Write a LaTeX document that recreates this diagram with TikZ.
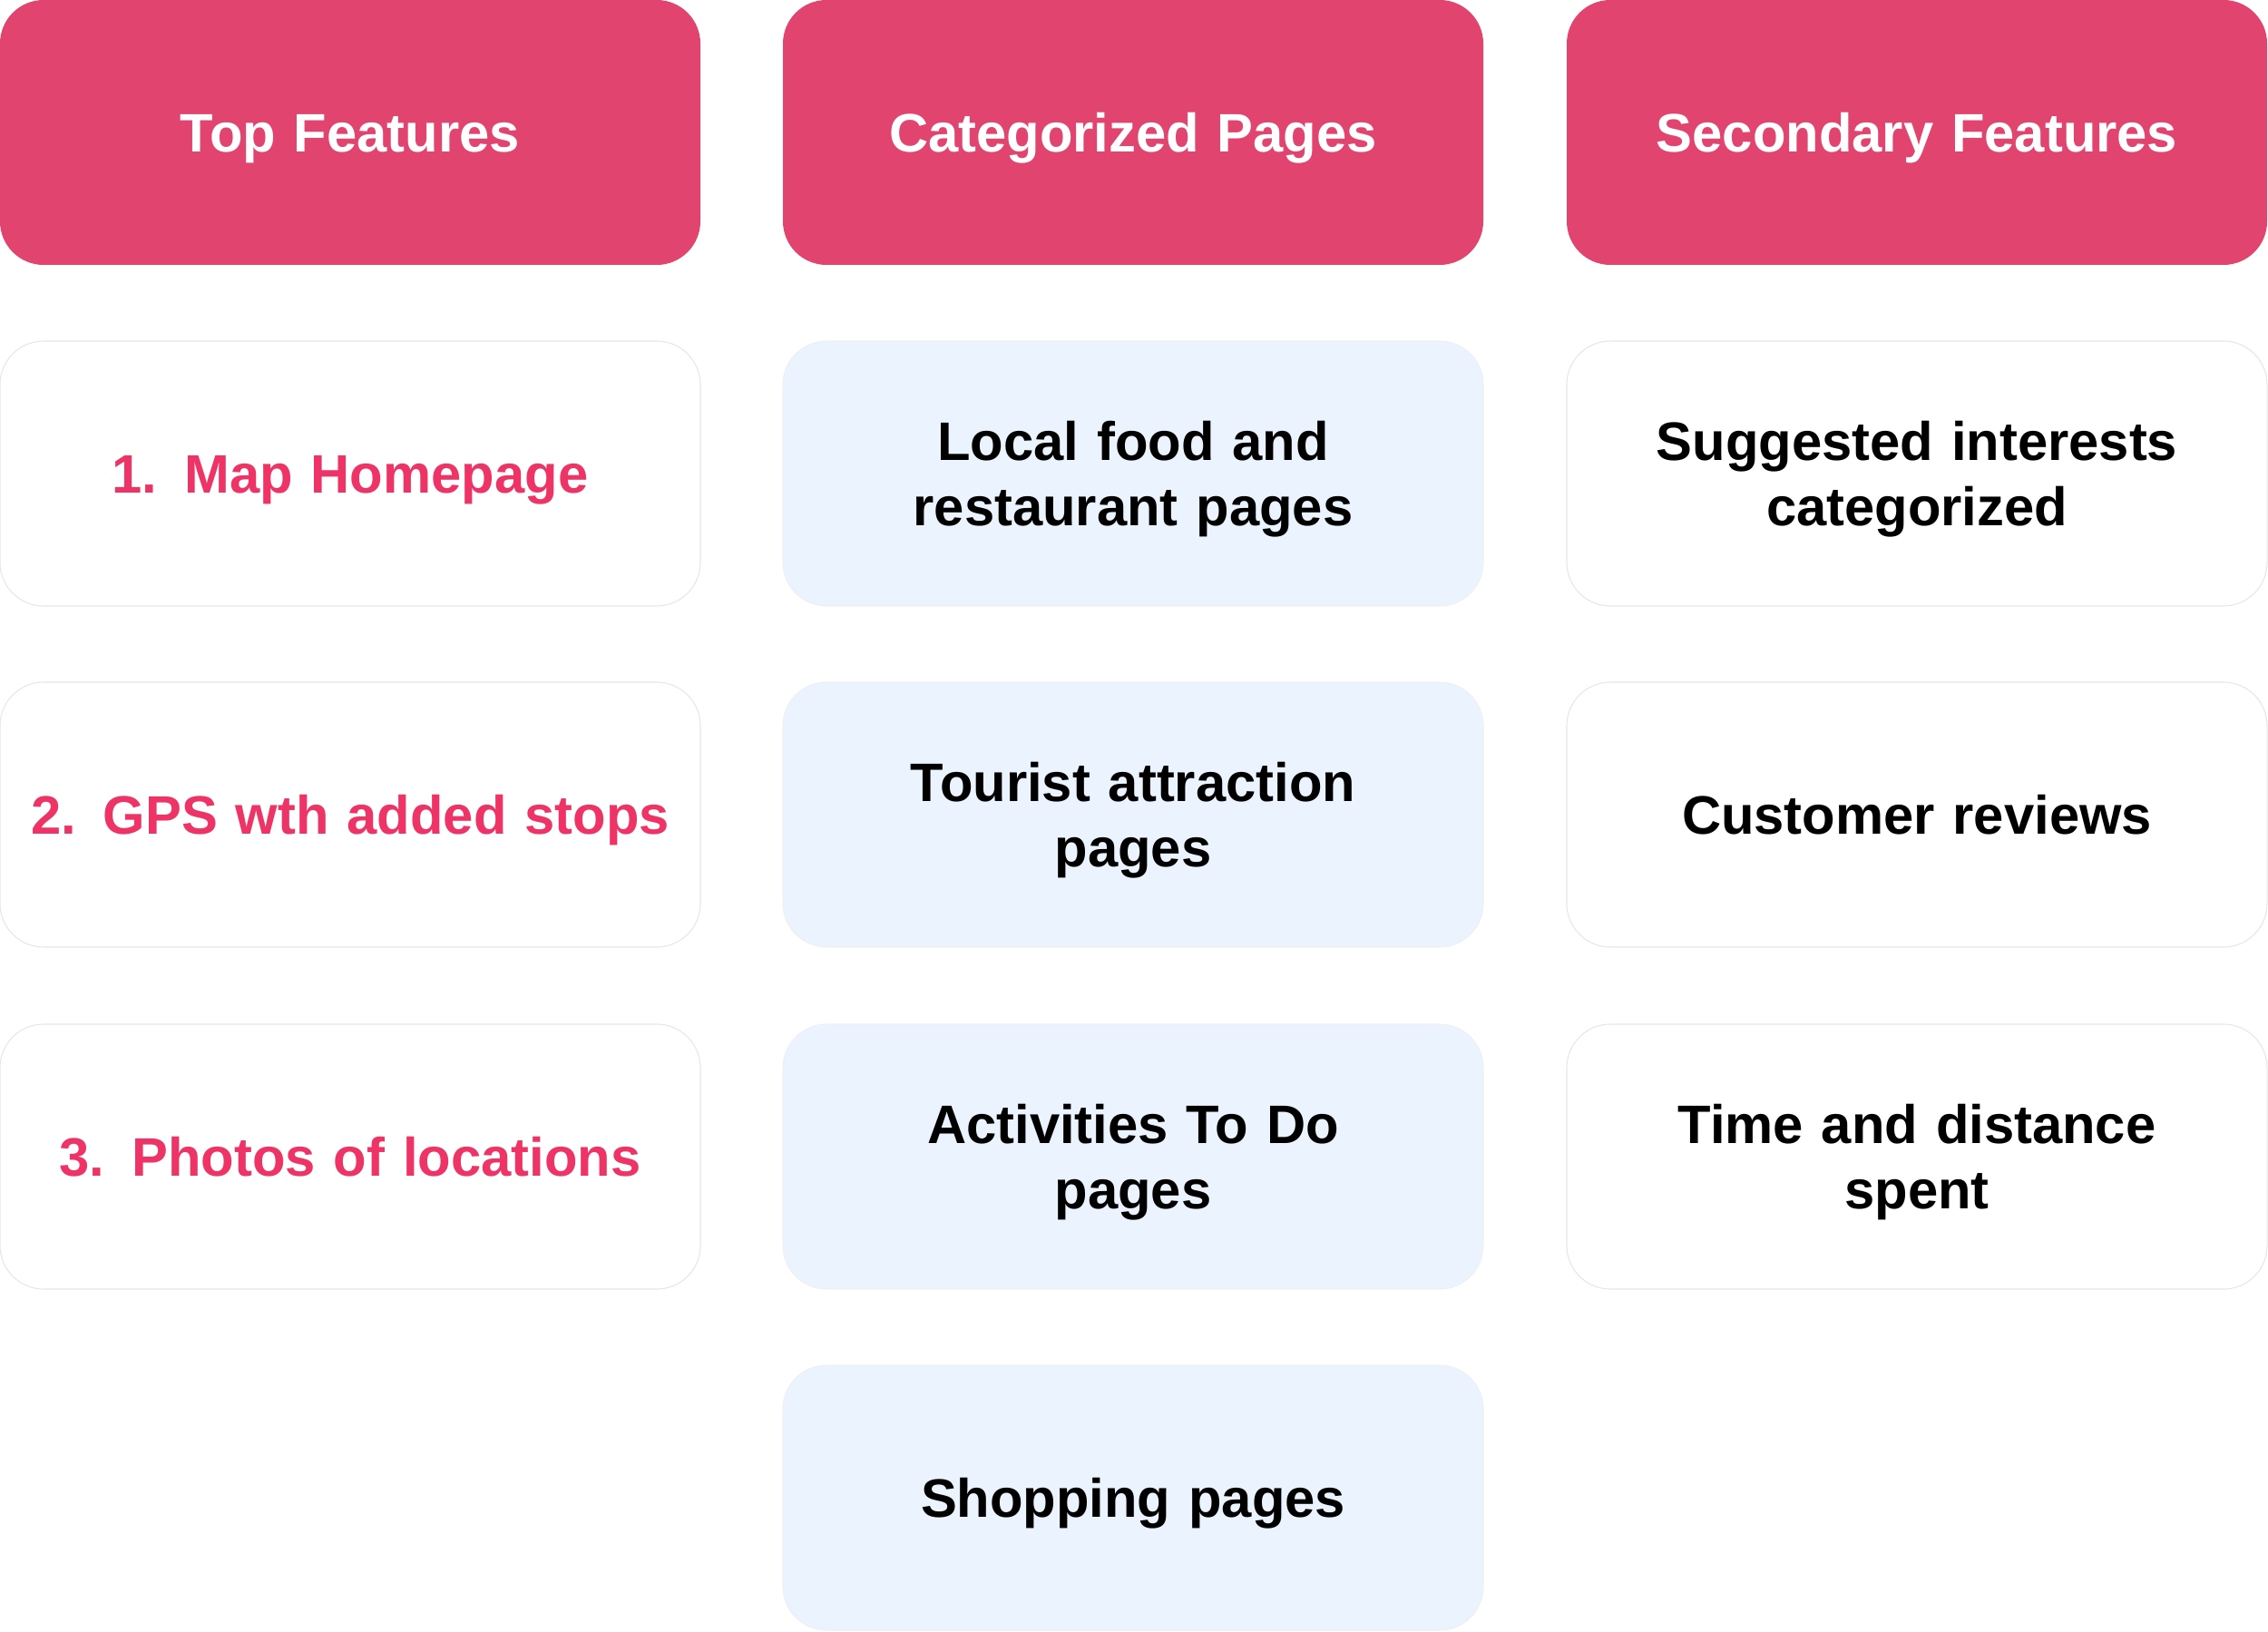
\documentclass[tikz,border=0pt]{standalone}
\usepackage{fontspec}
\setmainfont{Liberation Sans}
\definecolor{hdrpink}{HTML}{E0446F}
\definecolor{txtpink}{HTML}{EE3466}
\definecolor{lightblue}{HTML}{EAF3FE}
\definecolor{edgegray}{HTML}{E6E6E6}
\newcommand{\cardstrut}{\rule[-3.8pt]{0pt}{19.8pt}}
\begin{document}
\begin{tikzpicture}[
  card/.style={rectangle, rounded corners=0.48cm, minimum width=7.72cm, minimum height=2.92cm,
    inner sep=0pt, outer sep=0pt, align=center, text width=7.6cm,
    font=\fontsize{17}{20.5}\selectfont\bfseries,
    execute at begin node=\cardstrut, execute at end node=\cardstrut},
  header/.style={card, fill=hdrpink, text=white},
  plain/.style={card, fill=white, draw=edgegray, line width=0.3pt, text=black},
  topitem/.style={plain, text=txtpink},
  catitem/.style={card, fill=lightblue, draw=edgegray!60, line width=0.3pt, text=black}
]
\useasboundingbox (0,0) rectangle (25,-17.99);
% headers
\node[header] (h1) at (3.86,-1.46) {Top Features};
\node[header] (h2) at (12.49,-1.46) {Categorized Pages};
\node[header] (h3) at (21.13,-1.46) {Secondary Features};
% column 1
\node[topitem] (t1) at (3.86,-5.22) {1.\,\ Map Homepage};
\node[topitem] (t2) at (3.86,-8.98) {2.\,\ GPS wth added stops};
\node[topitem] (t3) at (3.86,-12.75) {3.\,\ Photos of locations};
% column 2
\node[catitem] (c1) at (12.49,-5.22) {Local food and\\restaurant pages};
\node[catitem] (c2) at (12.49,-8.98) {Tourist attraction\\pages};
\node[catitem] (c3) at (12.49,-12.75) {Activities To Do\\pages};
\node[catitem] (c4) at (12.49,-16.51) {Shopping pages};
% column 3
\node[plain] (s1) at (21.13,-5.22) {Suggested interests\\categorized};
\node[plain] (s2) at (21.13,-8.98) {Customer reviews};
\node[plain] (s3) at (21.13,-12.75) {Time and distance\\spent};
\end{tikzpicture}
\end{document}
